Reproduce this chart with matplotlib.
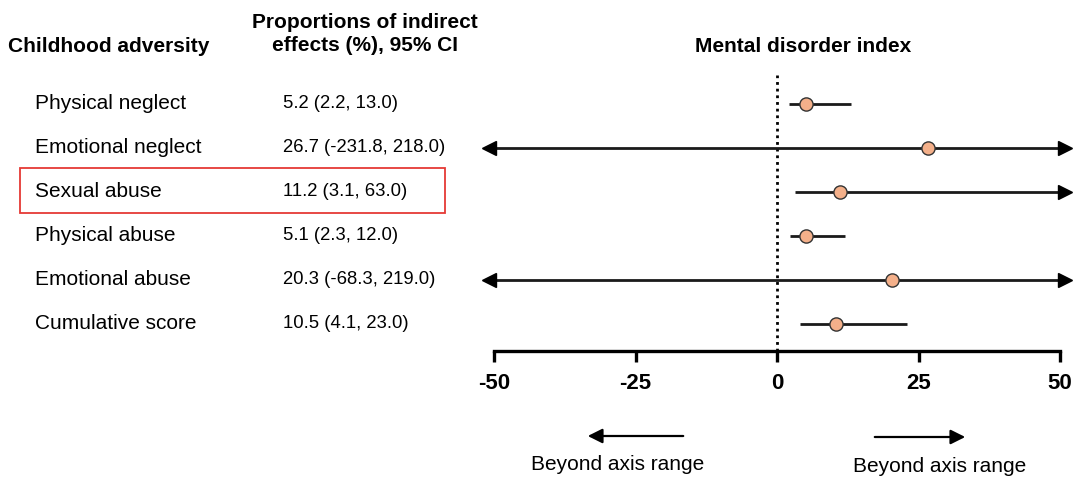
import matplotlib
matplotlib.use("Agg")
import matplotlib.pyplot as plt
import matplotlib.transforms as mtransforms
from matplotlib.patches import Rectangle

plt.rcParams['font.family'] = ['Liberation Sans', 'DejaVu Sans']

# data
categories = ["Physical neglect", "Emotional neglect", "Sexual abuse",
              "Physical abuse", "Emotional abuse", "Cumulative score"]
estimates = [5.2, 26.7, 11.2, 5.1, 20.3, 10.5]
ci_low = [2.2, -231.8, 3.1, 2.3, -68.3, 4.1]
ci_high = [13.0, 218.0, 63.0, 12.0, 219.0, 23.0]
xticks = [-50, -25, 0, 25, 50]
x_min, x_max = -50, 50

W, H = 1080, 487
fig = plt.figure(figsize=(W / 100, H / 100), dpi=100)


def fx(px):
    return px / W


def fy(py):
    return 1 - py / H


ax = fig.add_axes([fx(494), fy(351), fx(1060) - fx(494), fy(75) - fy(351)])
ax.set_xlim(x_min, x_max)
ax.set_ylim(5.614, -0.659)

# zero reference line
ax.axvline(0, color='black', linestyle=(0, (1, 1.4)), lw=2.0, zorder=1)

shift_r = mtransforms.ScaledTranslation(5 / 100, 0, fig.dpi_scale_trans)
shift_l = mtransforms.ScaledTranslation(-5 / 100, 0, fig.dpi_scale_trans)

for i, (est, lo, hi) in enumerate(zip(estimates, ci_low, ci_high)):
    lo_c = max(lo, x_min)
    hi_c = min(hi, x_max)
    ax.plot([lo_c, hi_c], [i, i], color='#1a1a1a', lw=2.0, zorder=2,
            solid_capstyle='butt')
    if hi > x_max:
        ax.plot(x_max, i, marker='>', ms=10, color='black', mec='black',
                transform=ax.transData + shift_r, clip_on=False, zorder=3)
    if lo < x_min:
        ax.plot(x_min, i, marker='<', ms=10, color='black', mec='black',
                transform=ax.transData + shift_l, clip_on=False, zorder=3)
    ax.plot(est, i, marker='o', ms=9.5, mfc='#F4B08A', mec='#333333',
            mew=1.0, zorder=4)

for s in ['top', 'right', 'left']:
    ax.spines[s].set_visible(False)
ax.spines['bottom'].set_linewidth(2.4)
ax.set_yticks([])
ax.set_xticks(xticks)
ax.set_xticklabels([str(t) for t in xticks])
ax.tick_params(axis='x', direction='out', length=8, width=2.4, pad=8)
for lab in ax.get_xticklabels():
    lab.set_fontweight('bold')
    lab.set_fontsize(16)

# table on the left, rows aligned with the axes
trans = mtransforms.blended_transform_factory(fig.transFigure, ax.transData)
for i, (cat, est, lo, hi) in enumerate(zip(categories, estimates, ci_low, ci_high)):
    fig.text(fx(35), i, cat, transform=trans, ha='left', va='center',
             fontsize=15)
    fig.text(fx(283), i, f"{est:.1f} ({lo:.1f}, {hi:.1f})", transform=trans,
             ha='left', va='center', fontsize=13.3)

fig.text(fx(8), fy(46), "Childhood adversity", ha='left', va='center',
         fontsize=15, fontweight='bold')
fig.text(fx(365), fy(34), "Proportions of indirect\neffects (%), 95% CI",
         ha='center', va='center', fontsize=15, fontweight='bold',
         linespacing=1.25)
fig.text(fx(803), fy(46), "Mental disorder index", ha='center', va='center',
         fontsize=15, fontweight='bold')

# highlight box
fig.patches.append(Rectangle((fx(20), fy(213)), fx(445) - fx(20),
                             fy(168) - fy(213), transform=fig.transFigure,
                             fill=False, edgecolor='#E53935', lw=1.3))

# beyond axis range notes
fig.add_artist(matplotlib.patches.FancyArrowPatch(
    (fx(686), fy(436)), (fx(585), fy(436)), transform=fig.transFigure,
    arrowstyle='-|>', mutation_scale=22, lw=1.6, color='black'))
fig.add_artist(matplotlib.patches.FancyArrowPatch(
    (fx(872), fy(437)), (fx(968), fy(437)), transform=fig.transFigure,
    arrowstyle='-|>', mutation_scale=22, lw=1.6, color='black'))
fig.text(fx(618), fy(464), "Beyond axis range", ha='center', va='center',
         fontsize=15)
fig.text(fx(940), fy(467), "Beyond axis range", ha='center', va='center',
         fontsize=15)

fig.savefig("out.png", dpi=100)
